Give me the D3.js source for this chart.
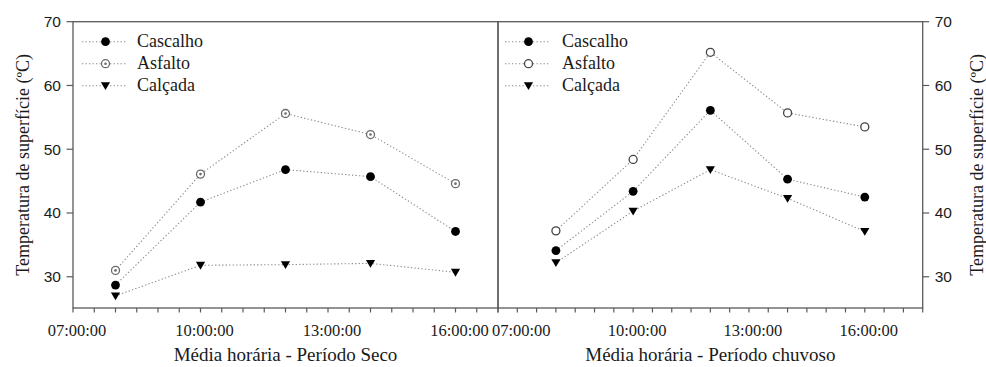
<!DOCTYPE html>
<html>
<head>
<meta charset="utf-8">
<script src="https://cdn.jsdelivr.net/npm/d3@7"></script>
<style>
  html, body { margin: 0; padding: 0; background: #fff; }
  svg { display: block; }
</style>
</head>
<body>
<svg id="chart" width="986" height="367"></svg>
<script>
// ---- data ----
const hours = [8, 10, 12, 14, 16];
const seriesNames = ["Cascalho", "Asfalto", "Calçada"];
const secoCascalho = [28.7, 41.7, 46.8, 45.7, 37.1];
const secoAsfalto  = [31.0, 46.1, 55.6, 52.3, 44.6];
const secoCalcada  = [27.0, 31.8, 31.9, 32.1, 30.7];
const chuvCascalho = [34.1, 43.4, 56.1, 45.3, 42.5];
const chuvAsfalto  = [37.2, 48.4, 65.2, 55.7, 53.5];
const chuvCalcada  = [32.2, 40.3, 46.8, 42.3, 37.1];
const yTicks = [30, 40, 50, 60, 70];
const xMajorHours = [7, 10, 13, 16];
const xTickLabels = ["07:00:00", "10:00:00", "13:00:00", "16:00:00"];
const yTitle = "Temperatura de superfície (ºC)";
const xTitleSeco = "Média horária - Período Seco";
const xTitleChuvoso = "Média horária - Período chuvoso";

const svg = d3.select("#chart");
const frameColor = "#5a5a5a";
const lineColor = "#8a8a8a";
const textColor = "#1a1a1a";
const serif = "'Liberation Serif', 'Times New Roman', serif";
const sans = "'Liberation Sans', Arial, sans-serif";

const plotTop = 21.7, plotBottom = 308;
const y = d3.scaleLinear().domain([25.1, 70]).range([plotBottom, plotTop]);

function drawMarker(g, kind, cx, cy, asfaltoDot) {
  if (kind === 0) {
    g.append("circle").attr("cx", cx).attr("cy", cy).attr("r", 4.4).attr("fill", "#000");
  } else if (kind === 1) {
    g.append("circle").attr("cx", cx).attr("cy", cy).attr("r", 4)
      .attr("fill", "#fff").attr("stroke", asfaltoDot ? "#6a6a6a" : "#444").attr("stroke-width", 1.3);
    if (asfaltoDot) {
      g.append("circle").attr("cx", cx).attr("cy", cy).attr("r", 1.3).attr("fill", "#6a6a6a");
    }
  } else {
    const s = 4.6;
    g.append("path")
      .attr("d", `M${cx - s},${cy - s * 0.75} L${cx + s},${cy - s * 0.75} L${cx},${cy + s * 0.95} Z`)
      .attr("fill", "#000");
  }
}

function panel(opts) {
  const { x0, x1, domain, series, yAxisSide, xTitle, asfaltoDot } = opts;
  const x = d3.scaleLinear().domain(domain).range([x0, x1]);
  const g = svg.append("g");

  // frame
  g.append("rect").attr("x", x0).attr("y", plotTop).attr("width", x1 - x0).attr("height", plotBottom - plotTop)
    .attr("fill", "none").attr("stroke", frameColor).attr("stroke-width", 1.3);

  // x ticks every half hour
  const minor = d3.range(Math.ceil(domain[0] * 2) / 2, domain[1] + 0.001, 0.5);
  g.selectAll(".xt").data(minor).enter().append("line")
    .attr("x1", d => x(d)).attr("x2", d => x(d))
    .attr("y1", plotBottom).attr("y2", plotBottom + 4.5)
    .attr("stroke", frameColor).attr("stroke-width", 1.2);
  g.selectAll(".xl").data(xMajorHours).enter().append("text")
    .attr("x", d => x(d) + 4).attr("y", 336)
    .attr("text-anchor", "middle")
    .attr("font-family", serif).attr("font-size", 16.5).attr("fill", textColor)
    .text((d, i) => xTickLabels[i]);

  // x title
  g.append("text").attr("x", (x0 + x1) / 2).attr("y", 361)
    .attr("text-anchor", "middle").attr("font-family", serif).attr("font-size", 19)
    .attr("fill", textColor).text(xTitle);

  // y axis
  const ax = yAxisSide === "left" ? x0 : x1;
  const dir = yAxisSide === "left" ? -1 : 1;
  g.selectAll(".yt").data(yTicks).enter().append("line")
    .attr("x1", ax).attr("x2", ax + dir * 6.5)
    .attr("y1", d => y(d)).attr("y2", d => y(d))
    .attr("stroke", frameColor).attr("stroke-width", 1.2);
  g.selectAll(".yl").data(yTicks).enter().append("text")
    .attr("x", ax + dir * 12).attr("y", d => y(d) + 5.5)
    .attr("text-anchor", yAxisSide === "left" ? "end" : "start")
    .attr("font-family", sans).attr("font-size", 15.5).attr("fill", textColor)
    .text(d => d);
  const tx = yAxisSide === "left" ? 29 : 983;
  g.append("text")
    .attr("transform", `translate(${tx},${(plotTop + plotBottom) / 2}) rotate(-90)`)
    .attr("text-anchor", "middle").attr("font-family", serif).attr("font-size", 18)
    .attr("fill", textColor).text(yTitle);

  // lines & markers
  const line = d3.line().x((d, i) => x(hours[i])).y(d => y(d));
  series.forEach((vals, k) => {
    g.append("path").attr("d", line(vals)).attr("fill", "none")
      .attr("stroke", lineColor).attr("stroke-width", 1.1).attr("stroke-dasharray", "1.3,2.2");
  });
  series.forEach((vals, k) => {
    vals.forEach((v, i) => drawMarker(g, k, x(hours[i]), y(v), asfaltoDot));
  });

  // legend
  const lx = x0 + opts.legendOffset;
  seriesNames.forEach((name, k) => {
    const ly = 41.7 + k * 22;
    g.append("line").attr("x1", lx).attr("x2", lx + 45).attr("y1", ly).attr("y2", ly)
      .attr("stroke", lineColor).attr("stroke-width", 1.1).attr("stroke-dasharray", "1.3,2.2");
    drawMarker(g, k, lx + 23.5, ly, asfaltoDot);
    g.append("text").attr("x", x0 + 64).attr("y", ly + 5.5)
      .attr("font-family", serif).attr("font-size", 18).attr("fill", textColor).text(name);
  });
}

panel({ x0: 73, x1: 498, domain: [7, 17],
  series: [secoCascalho, secoAsfalto, secoCalcada],
  yAxisSide: "left", xTitle: xTitleSeco, asfaltoDot: true, legendOffset: 9 });
panel({ x0: 498, x1: 922.7, domain: [6.5, 17.5],
  series: [chuvCascalho, chuvAsfalto, chuvCalcada],
  yAxisSide: "right", xTitle: xTitleChuvoso, asfaltoDot: false, legendOffset: 7 });
</script>
</body>
</html>
